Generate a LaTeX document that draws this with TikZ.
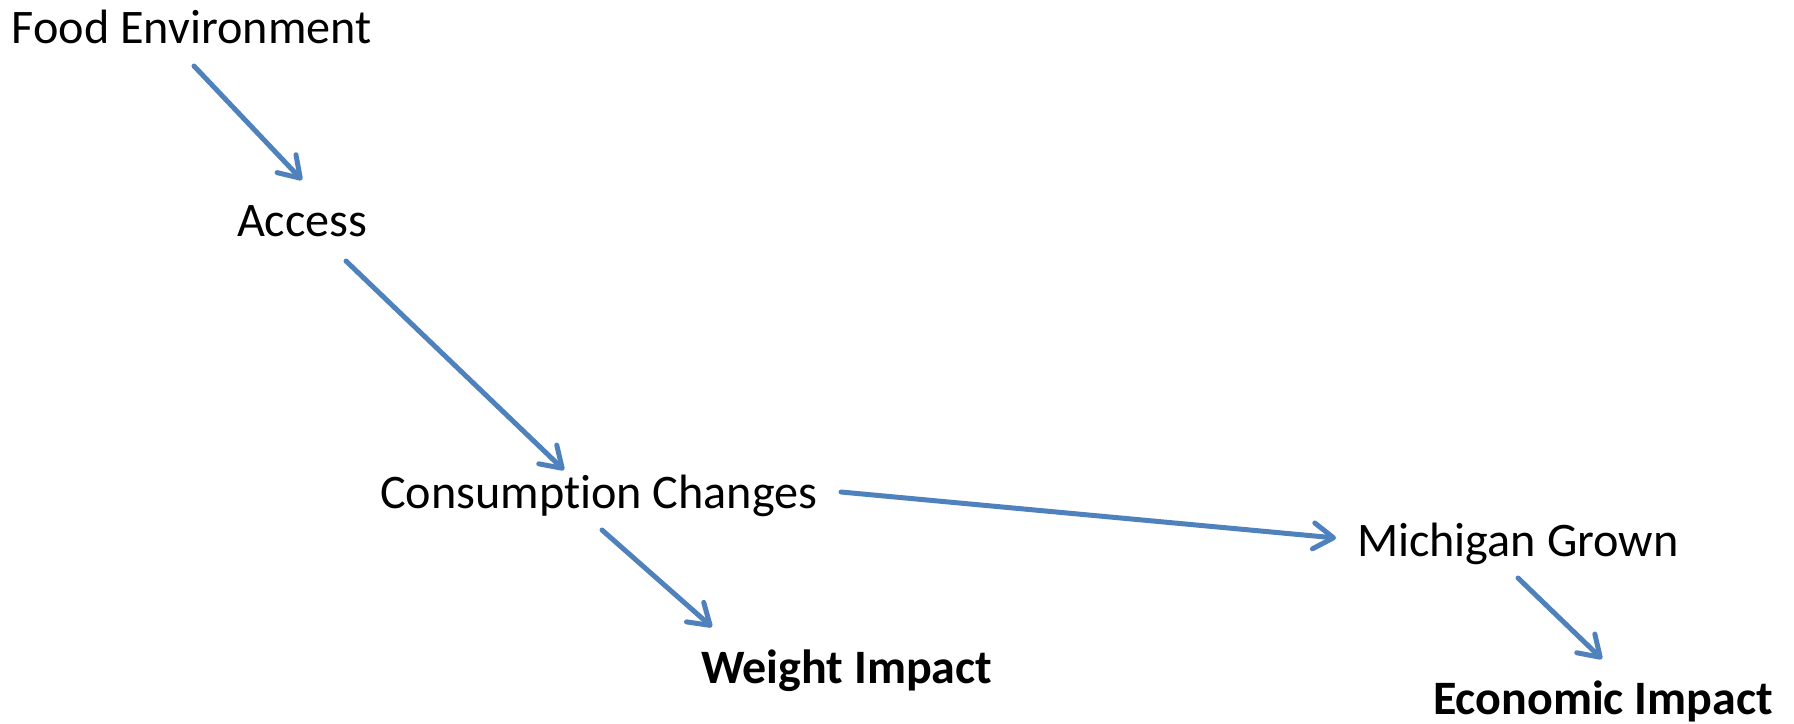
\documentclass[tikz,border=0pt]{standalone}
\usepackage{fontspec}
\setmainfont[Ligatures={NoCommon,NoDiscretionary,NoContextual}]{Carlito}
\usetikzlibrary{arrows.meta}
\definecolor{arrblue}{HTML}{4F81BD}
\begin{document}
\begin{tikzpicture}[x=1pt,y=-1pt,
  lbl/.style={anchor=base west,inner sep=0pt,outer sep=0pt,font=\fontsize{48.2}{58}\selectfont},
  blbl/.style={lbl,font=\fontsize{48}{58}\selectfont\bfseries},
  arr/.style={draw=arrblue,line width=5pt,line cap=round,-{Straight Barb[length=20pt,width=26pt,round]}}]
\useasboundingbox (0,0) rectangle (1794,723);
\node[lbl] (fe) at (12,43) {Food Environment};
\node[lbl] (acc) at (237,236) {Access};
\node[lbl] (cc) at (380,508) {Consumption Changes};
\node[lbl] (mg) at (1357,556) {Michigan Grown};
\node[blbl] (wi) at (701,683) {Weight Impact};
\node[blbl] (ei) at (1433,714) {Economic Impact};
\coordinate (s1) at (194,66);  \coordinate (t1) at (302,180);
\coordinate (s2) at (346,261); \coordinate (t2) at (564,470);
\coordinate (s3) at (841,492); \coordinate (t3) at (1336,538);
\coordinate (s4) at (602,530); \coordinate (t4) at (712,627);
\coordinate (s5) at (1518,578); \coordinate (t5) at (1602,659);
\draw[arr] (s1) -- (t1);
\draw[arr] (s2) -- (t2);
\draw[arr] (s3) -- (t3);
\draw[arr] (s4) -- (t4);
\draw[arr] (s5) -- (t5);
\end{tikzpicture}
\end{document}
